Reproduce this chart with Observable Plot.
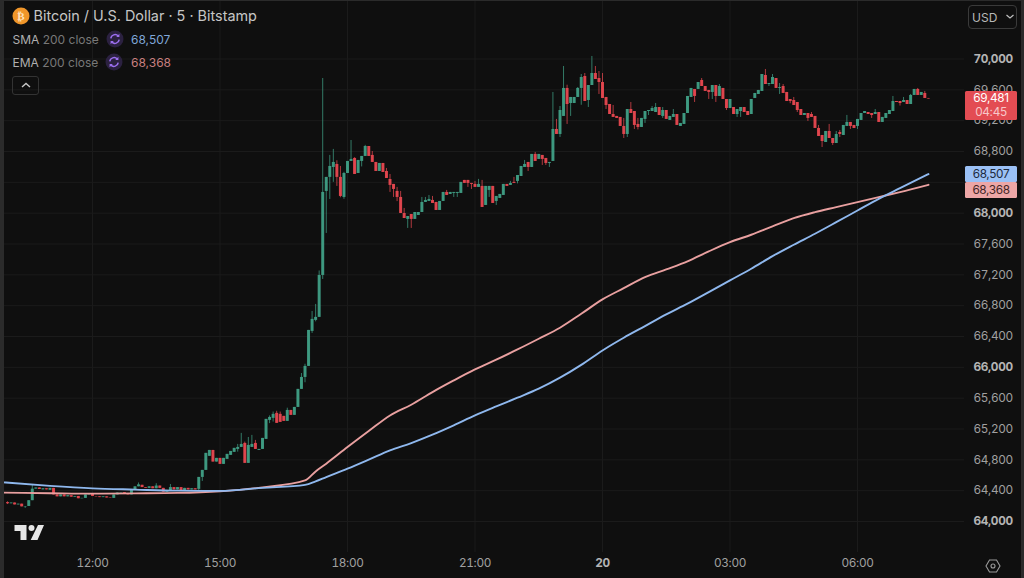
<!DOCTYPE html>
<html>
<head>
<meta charset="utf-8">
<script src="https://cdn.jsdelivr.net/npm/d3@7"></script>
<script src="https://cdn.jsdelivr.net/npm/@observablehq/plot@0.6"></script>
<style>
html,body{margin:0;padding:0;background:#0f0f0f;width:1024px;height:578px;overflow:hidden;font-family:Inter,"Noto Sans",sans-serif;}
#wrap{position:relative;width:1024px;height:578px;overflow:hidden;}
#wrap svg.plot{position:absolute;left:0;top:0;}
#wrap svg text{letter-spacing:-0.35px;}
.o{position:absolute;white-space:nowrap;line-height:1;}
.tag{position:absolute;left:965px;width:52px;box-sizing:border-box;font-size:11.8px;letter-spacing:-0.35px;text-align:center;border-radius:1.5px;}
.edge{position:absolute;background:#2b2b2b;}
</style>
</head>
<body>
<div id="wrap"></div>
<script>
const startTime = "2024-05-19T10:00:00Z";
const candleMinutes = 5;

const opens = [
64245,64230,64240,64215,64225,64190,64195,64270,64420,64435,
64410,64425,64405,64430,64345,64320,64345,64320,64335,64315,
64325,64295,64300,64345,64350,64325,64320,64310,64320,64305,
64300,64345,64370,64375,64350,64345,64410,64450,64470,64440,
64430,64450,64425,64460,64430,64380,64400,64440,64410,64440,
64400,64430,64410,64425,64417,64572,64663,64845,64922,64771,
64819,64741,64806,64858,64897,64935,64961,65013,64754,64961,
65013,64922,64935,65065,65312,65338,65403,65390,65364,65299,
65441,65377,65480,65714,65869,66012,66466,66609,66648,67192,
68282,68464,68593,68632,68464,68204,68515,68671,68710,68515,
68671,68736,68865,68749,68658,68541,68645,68541,68437,68373,
68282,68204,67996,67919,67983,67919,67970,68009,68139,68152,
68165,68139,68035,68152,68269,68243,68256,68256,68256,68425,
68425,68386,68373,68334,68347,68100,68295,68347,68152,68191,
68230,68373,68360,68399,68412,68476,68593,68658,68593,68762,
68697,68749,68710,68645,68671,69086,69021,69255,69618,69423,
69423,69501,69618,69773,69462,69656,69812,69747,69695,69501,
69410,69280,69255,69242,69125,69021,69345,69319,69151,69112,
69216,69319,69319,69306,69371,69255,69332,69203,69242,69280,
69125,69151,69293,69501,69605,69605,69721,69643,69592,69566,
69656,69514,69618,69475,69358,69371,69280,69319,69371,69319,
69280,69488,69540,69579,69786,69669,69669,69747,69618,69643,
69566,69475,69462,69436,69345,69267,69293,69280,69255,69099,
69008,68917,69060,68969,68904,69047,69008,69125,69177,69138,
69125,69203,69293,69306,69293,69280,69306,69177,69229,69280,
69319,69449,69449,69436,69462,69410,69527,69605,69527,69553,69488
];
const closes = [
64230,64240,64215,64225,64190,64195,64270,64420,64435,64415,
64425,64410,64430,64345,64320,64345,64320,64335,64315,64325,
64295,64300,64345,64350,64325,64320,64310,64320,64305,64300,
64345,64370,64375,64350,64345,64410,64450,64475,64440,64430,
64450,64425,64460,64430,64380,64400,64440,64410,64440,64400,
64430,64410,64425,64410,64572,64663,64884,64922,64771,64819,
64741,64819,64871,64909,64949,64961,65000,64754,64987,65000,
64935,64935,65078,65325,65350,65390,65273,65286,65299,65441,
65377,65480,65714,65869,66012,66479,66622,66648,67192,68269,
68464,68606,68658,68464,68217,68515,68671,68697,68502,68684,
68736,68865,68736,68658,68541,68645,68528,68450,68360,68308,
68204,67996,67931,67957,67919,68009,68009,68139,68165,68178,
68126,68035,68152,68269,68230,68269,68269,68269,68399,68386,
68386,68373,68334,68373,68074,68347,68347,68126,68217,68243,
68373,68347,68386,68386,68489,68606,68632,68593,68762,68671,
68762,68697,68645,68658,69086,69021,69332,69618,69410,69501,
69501,69618,69760,69449,69656,69812,69734,69695,69488,69397,
69280,69242,69229,69125,69021,69345,69293,69138,69112,69229,
69319,69332,69358,69371,69267,69332,69216,69255,69280,69138,
69164,69293,69514,69618,69514,69695,69643,69579,69566,69656,
69514,69643,69475,69358,69475,69280,69345,69371,69306,69267,
69475,69553,69592,69799,69669,69682,69760,69618,69630,69553,
69449,69449,69397,69332,69267,69293,69229,69242,69099,68995,
68930,69060,68969,68904,69021,69021,69138,69177,69125,69099,
69216,69293,69319,69280,69267,69306,69177,69242,69293,69332,
69449,69436,69423,69462,69410,69527,69605,69527,69566,69488,69481
];
// wick tips that stick out of the body, by candle number
const upperWicks = {0:64255,7:64480,37:64500,42:64490,46:64480,
65:65000,66:65143,67:65030,68:65090,69:65117,70:65052,74:65370,75:65420,76:65430,77:65420,79:65470,83:65920,84:66040,86:66725,87:66816,88:67250,89:69747,
91:68749,92:68827,93:68680,94:68606,95:68530,97:68943,98:68720,101:68880,103:68800,107:68580,108:68502,110:68334,111:68282,112:68061,
117:68204,118:68204,119:68230,120:68217,124:68295,132:68412,133:68438,134:68425,142:68412,143:68464,146:68684,149:68788,
154:69566,155:69216,156:69384,157:69903,158:69660,161:69630,162:69799,163:69812,165:70033,166:69903,167:69838,168:69812,171:69397,174:69229,176:69436,178:69229,
182:69384,183:69423,185:69371,188:69345,196:69747,201:69669,214:69864,216:69799,218:69682,219:69669,222:69501,227:69306,229:69138,232:69151,234:69060,235:69073,237:69268,245:69345,250:69514,253:69501,255:69540,257:69618,259:69579};
const lowerWicks = {0:64220,5:64170,54:64400,55:64520,65:64900,74:65270,75:65290,84:65800,86:66440,87:66590,89:67140,
90:67737,91:68178,92:68400,93:68347,94:68200,95:68180,100:68600,108:68269,109:68204,110:68150,113:67802,114:67802,
126:68204,127:68204,130:68334,131:68308,136:68204,138:68100,144:68380,147:68541,151:68619,152:68619,153:68593,
156:68982,158:69151,159:69255,162:69400,164:69371,167:69540,169:69345,174:68969,175:68982,177:69086,178:69080,
180:69164,181:69267,185:69229,194:69436,198:69475,199:69475,200:69436,203:69332,206:69242,207:69242,215:69643,218:69540,221:69420,223:69306,226:69190,
230:68852,233:68878,235:68982,238:69086,240:69086,244:69229,252:69390};

const maHours = [9.9,11,12,13,14,15,16,17,17.25,17.5,18,18.5,19,19.5,20,20.5,21,21.5,22,22.5,23,23.5,24,24.5,25,25.5,26,26.5,27,27.5,28,28.5,29,29.5,30,30.5,31,31.67];
const smaValues = [64508,64462,64430,64414,64400,64397,64436,64475,64520,64576,64685,64802,64922,65017,65126,65247,65376,65493,65606,65723,65866,66032,66219,66384,66535,66687,66826,66976,67128,67279,67442,67590,67733,67883,68035,68186,68324,68507];
const emaValues = [64375,64367,64361,64365,64371,64393,64443,64533,64650,64750,64965,65173,65376,65515,65679,65830,65973,66099,66232,66371,66514,66695,66881,67027,67170,67270,67374,67504,67624,67720,67828,67935,68013,68078,68143,68208,68273,68368];

const priceTicksBold = [64000,66000,68000,70000];
const priceTicks = [64400,64800,65200,65600,66400,66800,67200,67600,68800,69200,69600];
const coveredPriceTicks = [68400];
const timeTicks = ["2024-05-19T12:00:00Z","2024-05-19T15:00:00Z","2024-05-19T18:00:00Z","2024-05-19T21:00:00Z","2024-05-20T03:00:00Z","2024-05-20T06:00:00Z"].map(d=>new Date(d));
const dayTicks = [new Date("2024-05-20T00:00:00Z")];

const lastPrice = 69481, smaLast = 68507, emaLast = 68368;
const GREEN = "#3f9d84", RED = "#e5474f", SMA = "#8fb8ee", EMA = "#e9a0a0";

const t0 = +new Date(startTime);
const candles = opens.map((o,i)=>({
  t:new Date(t0+i*candleMinutes*60000), o, c:closes[i],
  h:Math.max(o,closes[i],upperWicks[i]||0),
  l:Math.min(o,closes[i],lowerWicks[i]||Infinity),
  col:closes[i]>=o?GREEN:RED
}));
const hourDate = h=>new Date(Date.UTC(2024,4,19)+h*3600000);
const smaRows = maHours.map((h,i)=>({t:hourDate(h),v:smaValues[i]}));
const emaRows = maHours.map((h,i)=>({t:hourDate(h),v:emaValues[i]}));
const fmt = d3.format(",");
const GRID="#1b1b1b", TXT="#a0a0a0", FS=11.8;

const chart = Plot.plot({
  width:1024,height:578,marginLeft:4,marginRight:60,marginTop:0,marginBottom:26,
  style:{background:"transparent",fontFamily:"Inter, sans-serif",overflow:"hidden"},
  x:{type:"utc",domain:[hourDate(12),hourDate(30)],range:[92,857]},
  y:{domain:[64000,70000],range:[521,58.5]},
  marks:[
    Plot.gridX([...timeTicks,...dayTicks],{stroke:GRID,strokeOpacity:1}),
    Plot.gridY([...priceTicksBold,...priceTicks,...coveredPriceTicks],{stroke:GRID,strokeOpacity:1}),
    Plot.ruleX(candles,{x:"t",y1:"l",y2:"h",stroke:"col",strokeWidth:1,strokeOpacity:0.75}),
    Plot.ruleX(candles,{x:"t",y1:"o",y2:"c",stroke:"col",strokeWidth:3,strokeOpacity:0.95}),
    Plot.line(emaRows,{x:"t",y:"v",stroke:EMA,strokeWidth:1.9,curve:"monotone-x"}),
    Plot.line(smaRows,{x:"t",y:"v",stroke:SMA,strokeWidth:1.9,curve:"monotone-x"}),
    Plot.axisY(priceTicks,{anchor:"right",label:null,tickSize:0,tickPadding:9,textAnchor:"start",tickFormat:fmt,fill:TXT,fontSize:FS,fontWeight:400}),
    Plot.axisY(priceTicksBold,{anchor:"right",label:null,tickSize:0,tickPadding:9,textAnchor:"start",tickFormat:fmt,fill:"#b4b4b4",fontSize:FS,fontWeight:700}),
    Plot.axisX(timeTicks,{label:null,tickSize:0,tickPadding:6,tickFormat:d3.utcFormat("%H:%M"),fill:TXT,fontSize:FS,fontWeight:400}),
    Plot.axisX(dayTicks,{label:null,tickSize:0,tickPadding:6,tickFormat:d3.utcFormat("%-d"),fill:"#b4b4b4",fontSize:FS,fontWeight:700})
  ]
});
const wrap=document.getElementById("wrap");
wrap.appendChild(chart);
const yS=chart.scale("y");
function add(html){const d=document.createElement("div");d.innerHTML=html;while(d.firstChild)wrap.appendChild(d.firstChild);}
const sync=c=>`<svg class="o" style="left:${c[0]-9}px;top:${c[1]-9}px" width="18" height="18" viewBox="0 0 18 18"><circle cx="9" cy="9" r="8.5" fill="#2b2140"/><path d="M4.8 8.4a4.3 4.3 0 0 1 7.4-2.4M13.2 9.6a4.3 4.3 0 0 1-7.4 2.4" fill="none" stroke="#9c6ff0" stroke-width="1.5"/><path d="M13.4 3.8v3.2h-3.2zM4.6 14.2v-3.2h3.2z" fill="#9c6ff0"/></svg>`;
add(`<div class="edge" style="left:0;top:0;width:4px;height:578px"></div><div class="edge" style="right:0;top:0;width:3px;height:578px"></div><div class="edge" style="left:0;top:0;width:1024px;height:1px"></div>
<svg class="o" style="left:12px;top:7px" width="18" height="18" viewBox="0 0 18 18"><circle cx="9" cy="9" r="8.5" fill="#f0962a"/><text x="9" y="13" text-anchor="middle" font-size="11" font-weight="700" fill="#fde3bf" font-family="DejaVu Sans" style="letter-spacing:0">₿</text></svg>
<div class="o" style="left:33.5px;top:9px;font-size:14.4px;color:#c6c6c6">Bitcoin / U.S. Dollar · 5 · Bitstamp</div>
<div class="o" style="left:12.5px;top:33.5px;font-size:12px;color:#b0b0b0">SMA <span style="color:#787878">200 close</span></div>
<div class="o" style="left:131px;top:33.5px;font-size:12px;color:#7fa6d8">${fmt(smaLast)}</div>
<div class="o" style="left:12.5px;top:56.5px;font-size:12px;color:#b0b0b0">EMA <span style="color:#787878">200 close</span></div>
<div class="o" style="left:131px;top:56.5px;font-size:12px;color:#c87f7f">${fmt(emaLast)}</div>
${sync([115,39])}${sync([114,62])}
<div class="o" style="left:12px;top:76px;width:27px;height:19px;border:1px solid #333;border-radius:3px;box-sizing:border-box"></div>
<svg class="o" style="left:20px;top:81px" width="12" height="8"><path d="M2 6l4-3.5 4 3.5" fill="none" stroke="#c8c8c8" stroke-width="1.4"/></svg>
<svg class="o" style="left:14px;top:524px" width="30" height="17" viewBox="0 0 30 17"><path d="M0.5 1h12v15h-6V7H0.5z M24 1h6l-6.5 15h-6.8z" fill="#e6e6e6"/><circle cx="17.5" cy="4" r="3" fill="#e6e6e6"/></svg>
<svg class="o" style="left:985px;top:558px" width="16" height="16" viewBox="0 0 16 16"><path d="M4.5 2h7L15 8l-3.5 6h-7L1 8z" fill="none" stroke="#9a9a9a" stroke-width="1.1"/><circle cx="8" cy="8" r="2" fill="none" stroke="#9a9a9a" stroke-width="1.1"/></svg>
<div class="o" style="left:968px;top:5px;width:49px;height:24px;border:1px solid #3a3a3a;border-radius:4px;box-sizing:border-box"></div>
<div class="o" style="left:972px;top:12px;font-size:12px;color:#b8b8b8">USD</div>
<svg class="o" style="left:1005px;top:13px" width="10" height="8"><path d="M1.5 2l3.5 3 3.5-3" fill="none" stroke="#c0c0c0" stroke-width="1.2"/></svg>
`);
const yLast=yS.apply(lastPrice), ySma=yS.apply(smaLast);
add(`<div class="tag" style="top:${yLast-7.5}px;height:29px;background:#e34c53;color:#fff;padding-top:1px;line-height:13.5px">${fmt(lastPrice)}<br><span style="color:#f7c7c9">04:45</span></div>
<div class="tag" style="top:${ySma-7.5}px;height:16px;background:#9bc1f6;color:#1d2a3e;line-height:16px">${fmt(smaLast)}</div>
<div class="tag" style="top:${ySma+8.5}px;height:16px;background:#eda6a6;color:#442626;line-height:16px">${fmt(emaLast)}</div>`);
</script>
</body>
</html>
